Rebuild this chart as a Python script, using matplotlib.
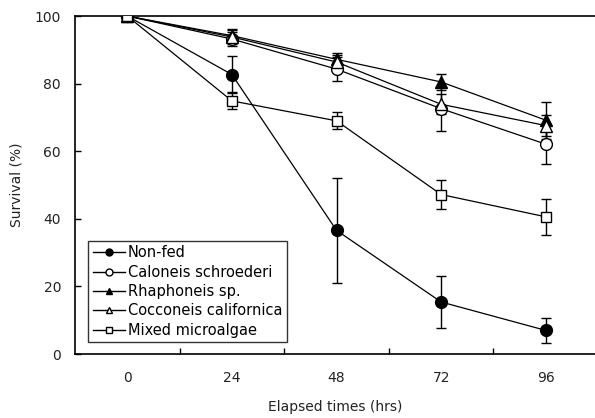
import matplotlib
matplotlib.use("Agg")
import matplotlib.pyplot as plt
import numpy as np

hours = [0, 24, 48, 72, 96]

non_fed = [100, 82.7, 36.6, 15.4, 7.0]
non_fed_err = [0, 5.5, 15.5, 7.7, 3.6]
caloneis = [100, 93.2, 84.3, 72.6, 62.1]
caloneis_err = [0, 2.0, 3.5, 6.5, 6.0]
rhaphoneis = [100, 94.2, 87.2, 80.5, 69.2]
rhaphoneis_err = [0, 2.0, 2.0, 2.5, 5.5]
cocconeis = [100, 93.8, 86.4, 73.9, 67.6]
cocconeis_err = [0, 2.0, 2.0, 3.0, 3.0]
mixed = [100, 74.9, 69.0, 47.2, 40.6]
mixed_err = [0, 2.5, 2.5, 4.2, 5.3]

labels = ["Non-fed", "Caloneis schroederi", "Rhaphoneis sp.",
          "Cocconeis californica", "Mixed microalgae"]

plt.rcParams['font.family'] = ['DejaVu Sans']

fig = plt.figure(figsize=(5.95, 4.18), dpi=100)
ax = fig.add_axes([0.126, 0.153, 0.874, 0.8086])

series = [
    (non_fed, non_fed_err, 'o', 'black'),
    (caloneis, caloneis_err, 'o', 'white'),
    (rhaphoneis, rhaphoneis_err, '^', 'black'),
    (cocconeis, cocconeis_err, '^', 'white'),
    (mixed, mixed_err, 's', 'white'),
]

handles = []
for (vals, err, mk, fc), lab in zip(series, labels):
    ax.errorbar(hours, vals, yerr=err, fmt='none', ecolor='black',
                elinewidth=1.0, capsize=3.5, capthick=1.0, zorder=2)
    ax.plot(hours, vals, color='black', lw=0.9, marker=mk,
            markersize=8.5 if mk != 's' else 7, markerfacecolor=fc,
            markeredgecolor='black', markeredgewidth=1.0, zorder=3)
    h, = ax.plot([], [], color='black', lw=1.0, marker=mk, markersize=5,
                 markerfacecolor=fc, markeredgecolor='black', label=lab)
    handles.append(h)

ax.set_xlim(-12, 107.3)
ax.set_ylim(0, 100)
ax.set_xticks(hours)
ax.set_xticks([12, 36, 60, 84], minor=True)
ax.tick_params(axis='x', which='major', length=0, pad=12, labelsize=10,
               labelcolor='#222222')
ax.tick_params(axis='x', which='minor', direction='in', length=4, width=1)
ax.set_yticks([0, 20, 40, 60, 80, 100])
ax.tick_params(axis='y', direction='in', length=4, width=1, pad=10,
               labelsize=10, labelcolor='#222222')

ax.spines['right'].set_visible(False)
for s in ['left', 'bottom', 'top']:
    ax.spines[s].set_linewidth(1.2)

ax.set_xlabel("Elapsed times (hrs)", fontsize=10, labelpad=11, color='#222222')
ax.set_ylabel("Survival (%)", fontsize=10, labelpad=8, color='#222222')

leg = ax.legend(handles=handles, loc='lower left', bbox_to_anchor=(0.026, 0.035),
                fontsize=10.5, frameon=True, fancybox=False, edgecolor='black',
                handlelength=2.2, handletextpad=0.2, borderpad=0.3,
                labelspacing=0.3, borderaxespad=0)
leg.get_frame().set_linewidth(1.0)

fig.savefig("out.png", dpi=100)
